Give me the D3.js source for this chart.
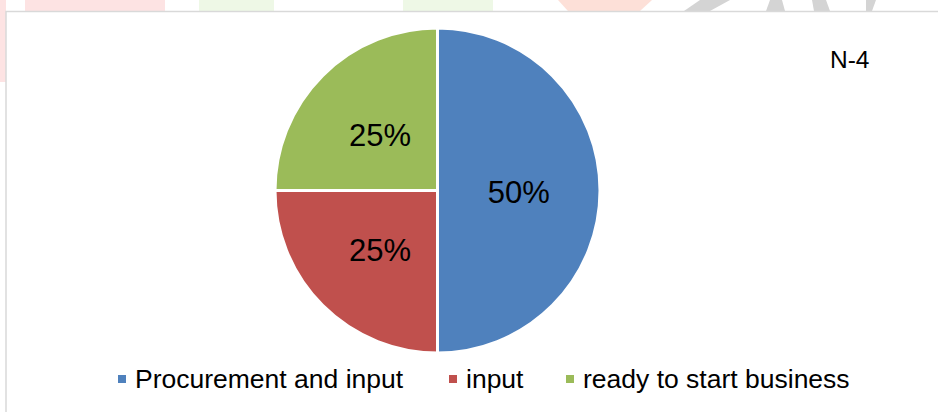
<!DOCTYPE html>
<html>
<head>
<meta charset="utf-8">
<script src="https://cdn.jsdelivr.net/npm/d3@7"></script>
<style>
  html, body { margin: 0; padding: 0; background: #ffffff; }
  svg { display: block; }
  text { font-family: Arial, "Liberation Sans", sans-serif; fill: #000; }
</style>
</head>
<body>
<svg id="chart" width="938" height="412"></svg>
<script>
const categories = ["Procurement and input", "input", "ready to start business"];
const values = [50, 25, 25];
const colors = ["#4f81bd", "#c0504d", "#9bbb59"];
const noteLabel = "N-4";

const svg = d3.select("#chart");

// faint watermark remnants above the chart frame
const wm = svg.append("g");
wm.append("rect").attr("x", 0).attr("y", 0).attr("width", 6).attr("height", 82).attr("fill", "#fde3e3");
wm.append("rect").attr("x", 25).attr("y", 0).attr("width", 140).attr("height", 11).attr("fill", "#fde3e3");
wm.append("rect").attr("x", 199).attr("y", 0).attr("width", 75).attr("height", 11).attr("fill", "#eef8e6");
wm.append("rect").attr("x", 403).attr("y", 0).attr("width", 90).attr("height", 11).attr("fill", "#eef8e6");
wm.append("path").attr("d", "M558,0 L652,0 L640,11 L568,11 Z").attr("fill", "#fde0d8");
wm.append("path").attr("d", "M700,0 L730,0 L710,11 L684,11 Z").attr("fill", "#d4d4d4");
wm.append("path").attr("d", "M770,0 L782,0 L785,11 L766,11 Z").attr("fill", "#d4d4d4");
wm.append("path").attr("d", "M812,0 L826,0 L830,11 L814,11 Z").attr("fill", "#d4d4d4");
wm.append("path").attr("d", "M866,0 L876,0 L872,11 L866,11 Z").attr("fill", "#d4d4d4");

// chart frame
svg.append("rect")
  .attr("x", 6).attr("y", 11.5)
  .attr("width", 1000).attr("height", 500)
  .attr("fill", "#ffffff")
  .attr("stroke", "#d9d9d9")
  .attr("stroke-width", 1.5);

const cx = 437.5, cy = 190.5, r = 162.5;
const total = d3.sum(values);
const data = categories.map((c, i) => ({ name: c, value: values[i], color: colors[i] }));

const pie = d3.pie().value(d => d.value).sort(null);
const arc = d3.arc().innerRadius(0).outerRadius(r);

const g = svg.append("g").attr("transform", `translate(${cx},${cy})`);
const arcs = pie(data);

g.selectAll("path.slice")
  .data(arcs)
  .join("path")
  .attr("class", "slice")
  .attr("d", arc)
  .attr("fill", d => d.data.color)
  .attr("stroke", "#ffffff")
  .attr("stroke-width", 3)
  .attr("stroke-linejoin", "miter");

g.selectAll("text.lbl")
  .data(arcs)
  .join("text")
  .attr("class", "lbl")
  .attr("transform", d => { const [x, y] = arc.centroid(d); return `translate(${x},${y + 1.5})`; })
  .attr("text-anchor", "middle")
  .attr("dy", "0.36em")
  .style("font-size", "31px")
  .text(d => Math.round(d.data.value / total * 100) + "%");

svg.append("text")
  .attr("x", 830).attr("y", 68)
  .style("font-size", "24.5px")
  .text(noteLabel);

// legend
const legendX = d3.scaleOrdinal().domain(categories).range([118, 449, 566]);
const lg = svg.append("g");
const items = lg.selectAll("g.item").data(data).join("g").attr("class", "item")
  .attr("transform", d => `translate(${legendX(d.name)},0)`);
items.append("rect").attr("x", 0).attr("y", 375).attr("width", 8).attr("height", 8).attr("fill", d => d.color);
items.append("text").attr("x", 17).attr("y", 388).style("font-size", "26.5px").text(d => d.name);
</script>
</body>
</html>
